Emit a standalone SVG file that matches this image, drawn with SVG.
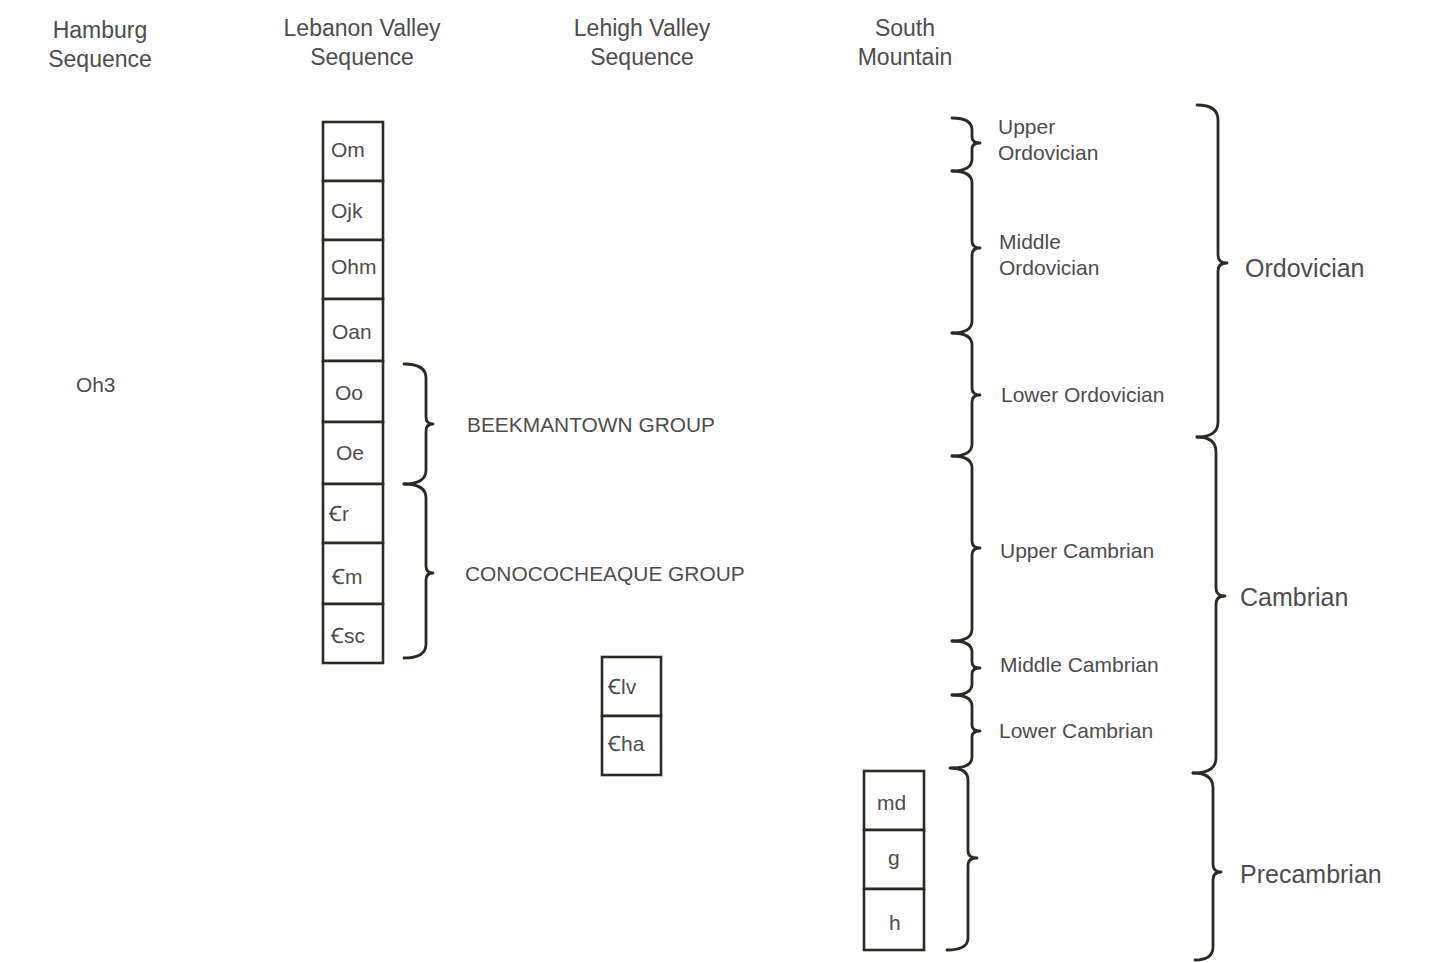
<svg xmlns="http://www.w3.org/2000/svg" width="1432" height="963" viewBox="0 0 1432 963">
<style>
text{font-family:"Liberation Sans",Arial,"DejaVu Sans",sans-serif;fill:#4d4d4d}
.h{font-size:23px;text-anchor:middle}
.c{font-size:21px}
.l{font-size:20.9px}
.b{font-size:25px}
rect{fill:#fff;stroke:#2b2b25;stroke-width:2.6}
.br{fill:none;stroke:#2b2b25;stroke-width:2.8;stroke-linecap:round;stroke-linejoin:round}
</style>
<rect x="0" y="0" width="1432" height="963" style="fill:#fff;stroke:none"/>
<g id="headers">
<text class="h" x="100" y="38">Hamburg</text><text class="h" x="100" y="67">Sequence</text>
<text class="h" x="362" y="36">Lebanon Valley</text><text class="h" x="362" y="65">Sequence</text>
<text class="h" x="642" y="36">Lehigh Valley</text><text class="h" x="642" y="65">Sequence</text>
<text class="h" x="905" y="36">South</text><text class="h" x="905" y="65">Mountain</text>
</g>
<g id="oh3"><text class="l" x="76" y="392">Oh3</text></g>
<g id="lv-Om"><rect x="323" y="122" width="60" height="59"/><text class="c" x="331" y="157">Om</text></g>
<g id="lv-Ojk"><rect x="323" y="181" width="60" height="59"/><text class="c" x="331" y="218">Ojk</text></g>
<g id="lv-Ohm"><rect x="323" y="240" width="60" height="59"/><text class="c" x="331" y="274">Ohm</text></g>
<g id="lv-Oan"><rect x="323" y="299" width="60" height="62"/><text class="c" x="332" y="339">Oan</text></g>
<g id="lv-Oo"><rect x="323" y="361" width="60" height="61"/><text class="c" x="335" y="400">Oo</text></g>
<g id="lv-Oe"><rect x="323" y="422" width="60" height="62"/><text class="c" x="336" y="460">Oe</text></g>
<g id="lv-Cr"><rect x="323" y="484" width="60" height="59"/><text class="c" x="329" y="521">Ꞓr</text></g>
<g id="lv-Cm"><rect x="323" y="543" width="60" height="61"/><text class="c" x="332" y="584">Ꞓm</text></g>
<g id="lv-Csc"><rect x="323" y="604" width="60" height="59"/><text class="c" x="331" y="643">Ꞓsc</text></g>
<g id="lh-Clv"><rect x="602" y="657" width="59" height="59"/><text class="c" x="608" y="694">Ꞓlv</text></g>
<g id="lh-Cha"><rect x="602" y="716" width="59" height="59"/><text class="c" x="608" y="751">Ꞓha</text></g>
<g id="sm-md"><rect x="864" y="771" width="60" height="59"/><text class="c" x="877" y="810">md</text></g>
<g id="sm-g"><rect x="864" y="830" width="60" height="59"/><text class="c" x="888" y="865">g</text></g>
<g id="sm-h"><rect x="864" y="889" width="60" height="61"/><text class="c" x="889" y="930">h</text></g>
<g id="braces">
<path class="br" d="M404,364 Q426,364 426,378 L426,417 Q426,424 433,424 Q426,424 426,431 L426,470 Q426,484 404,484"/>
<path class="br" d="M404,484 Q426,484 426,498 L426,566 Q426,573 433,573 Q426,573 426,580 L426,644 Q426,658 404,658"/>
<path class="br" d="M952,118 Q972,118 972,130 L972,137 Q972,143 980,143 Q972,143 972,149 L972,159 Q972,171 952,171"/>
<path class="br" d="M952,171 Q972,171 972,183 L972,241 Q972,248 980,248 Q972,248 972,255 L972,321 Q972,333 952,333"/>
<path class="br" d="M952,333 Q972,333 972,345 L972,388 Q972,395 980,395 Q972,395 972,402 L972,444 Q972,456 952,456"/>
<path class="br" d="M952,456 Q972,456 972,468 L972,541 Q972,548 980,548 Q972,548 972,555 L972,629 Q972,641 952,641"/>
<path class="br" d="M952,641 Q972,641 972,652 L972,662 Q972,668 980,668 Q972,668 972,674 L972,684 Q972,695 952,695"/>
<path class="br" d="M952,695 Q972,695 972,706 L972,725 Q972,731 980,731 Q972,731 972,737 L972,757 Q972,768 952,768"/>
<path class="br" d="M950,768 Q968,768 968,780 L968,851 Q968,858 977,858 Q968,858 968,865 L968,938 Q968,950 947,950"/>
<path class="br" d="M1197,105 Q1218,105 1218,120 L1218,255 Q1218,263 1227,263 Q1218,263 1218,271 L1218,422 Q1218,437 1197,437"/>
<path class="br" d="M1197,437 Q1216,437 1216,452 L1216,588 Q1216,596 1225,596 Q1216,596 1216,604 L1216,758 Q1216,773 1193,773"/>
<path class="br" d="M1193,773 Q1213,773 1213,788 L1213,864 Q1213,872 1221,872 Q1213,872 1213,880 L1213,947 Q1213,960 1195,960"/>
</g>
<g id="labels">
<text class="l" x="467" y="432">BEEKMANTOWN GROUP</text>
<text class="l" x="465" y="581">CONOCOCHEAQUE GROUP</text>
<text class="c" x="998" y="134">Upper</text><text class="c" x="998" y="160">Ordovician</text>
<text class="c" x="999" y="249">Middle</text><text class="c" x="999" y="275">Ordovician</text>
<text class="c" x="1001" y="402">Lower Ordovician</text>
<text class="c" x="1000" y="558">Upper Cambrian</text>
<text class="c" x="1000" y="672">Middle Cambrian</text>
<text class="c" x="999" y="738">Lower Cambrian</text>
<text class="b" x="1245" y="277">Ordovician</text>
<text class="b" x="1240" y="606">Cambrian</text>
<text class="b" x="1240" y="883">Precambrian</text>
</g>
</svg>
